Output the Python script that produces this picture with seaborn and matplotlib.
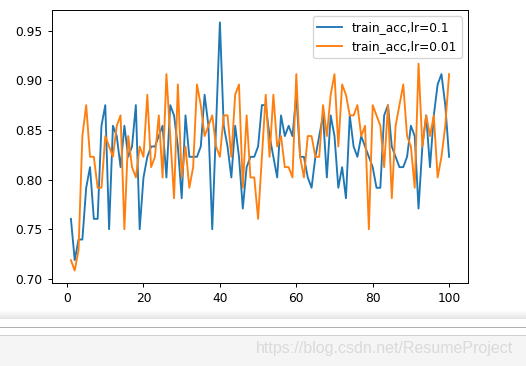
import numpy as np
import pandas as pd
import seaborn as sns
import matplotlib.pyplot as plt
from matplotlib.patches import Rectangle

epochs = list(range(1, 101))
acc_lr01 = [0.7604, 0.7188, 0.7396, 0.7396, 0.7917, 0.8125, 0.7604, 0.7604, 0.8542, 0.875,
            0.75, 0.8542, 0.8438, 0.8125, 0.8542, 0.8229, 0.8333, 0.875, 0.75, 0.8021,
            0.8229, 0.8333, 0.8333, 0.8438, 0.8542, 0.8021, 0.875, 0.8646, 0.8333, 0.7812,
            0.8646, 0.8229, 0.8229, 0.8229, 0.8333, 0.8854, 0.8542, 0.75, 0.8542, 0.9583,
            0.8542, 0.8333, 0.8021, 0.8542, 0.8229, 0.7708, 0.8125, 0.8229, 0.8229, 0.8333,
            0.875, 0.875, 0.8438, 0.8229, 0.8021, 0.8646, 0.8438, 0.8542, 0.8438, 0.8854,
            0.8229, 0.8229, 0.8021, 0.7917, 0.8229, 0.8438, 0.8646, 0.8021, 0.8646, 0.8438,
            0.7917, 0.8125, 0.7812, 0.8646, 0.8333, 0.8229, 0.8438, 0.8333, 0.8229, 0.8125,
            0.7917, 0.7917, 0.8646, 0.875, 0.8333, 0.8229, 0.8125, 0.8125, 0.8229, 0.8542,
            0.8438, 0.7708, 0.8333, 0.8646, 0.8125, 0.8646, 0.8958, 0.9062, 0.875, 0.8229]
acc_lr001 = [0.7188, 0.7083, 0.7292, 0.8438, 0.875, 0.8229, 0.8229, 0.7917, 0.7917, 0.8438,
             0.8333, 0.8229, 0.8542, 0.8646, 0.75, 0.8438, 0.8125, 0.8021, 0.8333, 0.8229,
             0.8854, 0.8125, 0.8229, 0.8646, 0.8021, 0.9062, 0.8438, 0.7812, 0.8958, 0.8021,
             0.8333, 0.7917, 0.8125, 0.8958, 0.875, 0.8438, 0.8542, 0.8646, 0.8333, 0.8229,
             0.8646, 0.8646, 0.8229, 0.8854, 0.8958, 0.7917, 0.8646, 0.8021, 0.8021, 0.7604,
             0.8229, 0.8854, 0.8229, 0.8854, 0.8333, 0.8438, 0.8125, 0.8125, 0.8021, 0.9062,
             0.8229, 0.8021, 0.8438, 0.8438, 0.8229, 0.8229, 0.875, 0.8438, 0.8854, 0.9062,
             0.8333, 0.8958, 0.8854, 0.8646, 0.8646, 0.875, 0.8438, 0.8542, 0.75, 0.875,
             0.8646, 0.8542, 0.8125, 0.875, 0.7812, 0.8542, 0.875, 0.8958, 0.8438, 0.8333,
             0.7917, 0.9167, 0.8333, 0.8646, 0.8438, 0.8646, 0.8021, 0.8229, 0.8542, 0.9062]
labels = ["train_acc,lr=0.1", "train_acc,lr=0.01"]
colors = ["#1f77b4", "#ff7f0e"]

plt.rcParams["font.family"] = ["DejaVu Sans"]
plt.rcParams["font.size"] = 8.8

fig = plt.figure(figsize=(5.26, 3.66), dpi=100)
ax = fig.add_axes([52/526, 1-283/366, 416/526, 273/366])

sns.lineplot(x=epochs, y=acc_lr01, ax=ax, color=colors[0], label=labels[0], linewidth=1.35)
sns.lineplot(x=epochs, y=acc_lr001, ax=ax, color=colors[1], label=labels[1], linewidth=1.35)

ax.legend(loc="upper right", fontsize=8.8)
ax.tick_params(length=3.1, width=0.7, labelsize=8.8)
for s in ax.spines.values():
    s.set_linewidth(0.7)

# notebook page strip under the plot
H = 366
def band(y0, y1, color, alpha=1.0):
    fig.patches.append(Rectangle((0, 1-y1/H), 1, (y1-y0)/H, transform=fig.transFigure,
                                 facecolor=color, edgecolor="none", alpha=alpha, zorder=0))
for i, a in enumerate(np.linspace(0.03, 0.25, 8)):
    band(311 + i, 312 + i, "#9a9a9a", a)
band(326.5, 327.5, "#b0b0b0")
band(334.5, 335.5, "#d0d0d0")
band(335.5, 366, "#f5f5f5")
fig.text(513/526, 1-349/H, "https://blog.csdn.net/ResumeProject", ha="right", va="center",
         fontsize=11.5, color="#dadada", family="Liberation Sans")

fig.savefig("out.png", dpi=100)
